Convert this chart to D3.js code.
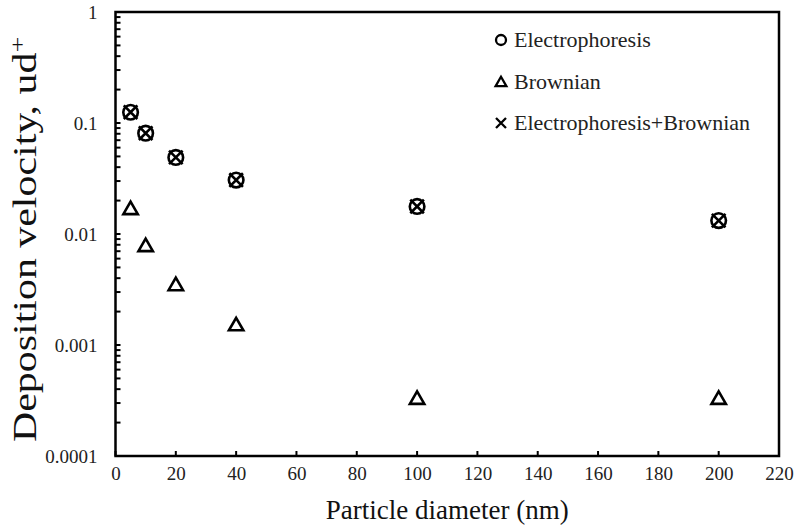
<!DOCTYPE html>
<html>
<head>
<meta charset="utf-8">
<script src="https://cdn.jsdelivr.net/npm/d3@7"></script>
<style>
  html, body { margin: 0; padding: 0; background: #fff; }
  svg text { font-family: "Liberation Serif", "Times New Roman", serif !important; }
</style>
</head>
<body>
<svg id="chart" width="796" height="526"></svg>
<script>
// Particle diameters (nm)
const diameters = [5, 10, 20, 40, 100, 200];
// Deposition velocity, ud+
const electrophoresis = [0.125, 0.081, 0.049, 0.0306, 0.0177, 0.0132];
const brownian = [0.0168, 0.0078, 0.00347, 0.00151, 0.000328, 0.000328];
const combined = [0.125, 0.081, 0.049, 0.0306, 0.0177, 0.0132];

const xTicks = d3.range(0, 221, 20);
const yTicks = [0.0001, 0.001, 0.01, 0.1, 1];
const yTickLabels = ["0.0001", "0.001", "0.01", "0.1", "1"];
const seriesNames = ["Electrophoresis", "Brownian", "Electrophoresis+Brownian"];

const svg = d3.select("#chart");
const margin = { left: 115.5, right: 17, top: 12, bottom: 70 };
const W = 796, H = 526;

const x = d3.scaleLinear().domain([0, 220]).range([margin.left, W - margin.right]);
const y = d3.scaleLog().domain([0.0001, 1]).range([H - margin.bottom, margin.top]);

// minor ticks for the log axis
const minor = [];
for (let e = -4; e < 0; e++) {
  for (let m = 2; m <= 9; m++) minor.push(m * Math.pow(10, e));
}

// y axis: labels only, ticks drawn inward below
const yAxis = d3.axisLeft(y).tickValues(yTicks).tickFormat((d, i) => yTickLabels[i]).tickSize(0).tickPadding(18);
const gy = svg.append("g").attr("transform", `translate(${margin.left},0)`).call(yAxis);
gy.select(".domain").remove();
gy.selectAll("text").attr("font-size", 19).attr("fill", "#222");

svg.append("g").selectAll("line").data(minor.concat(yTicks)).join("line")
  .attr("x1", margin.left).attr("x2", margin.left + 5)
  .attr("y1", d => y(d)).attr("y2", d => y(d))
  .attr("stroke", "#000").attr("stroke-width", 2);

// x axis: labels only, ticks drawn inward below
const xAxis = d3.axisBottom(x).tickValues(xTicks).tickSize(0).tickPadding(11);
const gx = svg.append("g").attr("transform", `translate(0,${H - margin.bottom})`).call(xAxis);
gx.select(".domain").remove();
gx.selectAll("text").attr("font-size", 19).attr("fill", "#222");
gy.attr("font-family", null);
gx.attr("font-family", null);

svg.append("g").selectAll("line").data(xTicks).join("line")
  .attr("x1", d => x(d)).attr("x2", d => x(d))
  .attr("y1", H - margin.bottom).attr("y2", H - margin.bottom - 5)
  .attr("stroke", "#000").attr("stroke-width", 2);

// plot frame
svg.append("rect")
  .attr("x", margin.left).attr("y", margin.top)
  .attr("width", W - margin.right - margin.left)
  .attr("height", H - margin.bottom - margin.top)
  .attr("fill", "none").attr("stroke", "#000").attr("stroke-width", 2.5);

// axis titles
svg.append("text")
  .attr("x", (margin.left + W - margin.right) / 2).attr("y", 519)
  .attr("text-anchor", "middle").attr("font-size", 27).attr("fill", "#111")
  .text("Particle diameter (nm)");

// y title is drawn a little elongated along its reading direction
const yt = svg.append("text")
  .attr("transform", `translate(36,442) rotate(-90) scale(1.27,1)`)
  .attr("text-anchor", "start").attr("font-size", 33).attr("fill", "#111");
yt.append("tspan").text("Deposition velocity, ud");
yt.append("tspan").attr("baseline-shift", "super").attr("font-size", 22).text("+");

// markers
const triPath = d3.symbol().type(d3.symbolTriangle).size(90)();
const sw = 2.6;

function drawCircle(g, cx, cy, r, w) {
  g.append("circle").attr("cx", cx).attr("cy", cy).attr("r", r)
    .attr("fill", "none").attr("stroke", "#000").attr("stroke-width", w);
}
function drawCross(g, cx, cy, h, w) {
  g.append("path")
    .attr("d", `M${cx - h},${cy - h}L${cx + h},${cy + h}M${cx - h},${cy + h}L${cx + h},${cy - h}`)
    .attr("stroke", "#000").attr("stroke-width", w).attr("fill", "none");
}

const marks = svg.append("g");
diameters.forEach((d, i) => {
  drawCircle(marks, x(d), y(electrophoresis[i]), 7.3, sw);
  drawCross(marks, x(d), y(combined[i]), 6.8, sw);
  marks.append("path").attr("d", triPath)
    .attr("transform", `translate(${x(d)},${y(brownian[i]) + 1})`)
    .attr("fill", "none").attr("stroke", "#000").attr("stroke-width", sw).attr("stroke-linejoin", "miter");
});

// legend
const legend = svg.append("g");
const lx = 501, ly = [40, 82, 123];
drawCircle(legend, lx, ly[0], 5, 2.3);
legend.append("path").attr("d", d3.symbol().type(d3.symbolTriangle).size(50)())
  .attr("transform", `translate(${lx},${ly[1] + 1})`)
  .attr("fill", "none").attr("stroke", "#000").attr("stroke-width", 2.3);
drawCross(legend, lx, ly[2], 5, 2.3);
seriesNames.forEach((n, i) => {
  legend.append("text").attr("x", lx + 13).attr("y", ly[i] + 7)
    .attr("font-size", 22).attr("fill", "#222").text(n);
});
</script>
</body>
</html>
